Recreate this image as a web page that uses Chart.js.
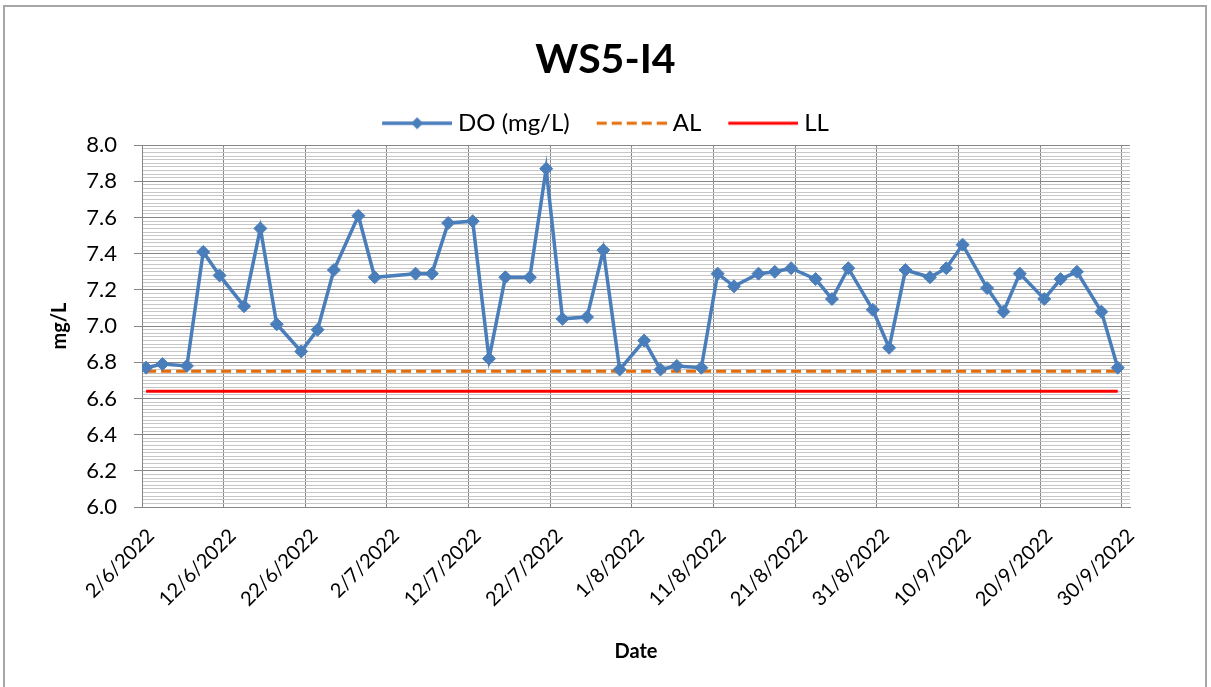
<!DOCTYPE html>
<html>
<head>
<meta charset="utf-8">
<title>WS5-I4</title>
<script src="https://cdn.jsdelivr.net/npm/chart.js@4/dist/chart.umd.min.js"></script>
<style>
  html, body { margin: 0; padding: 0; background: #fff; overflow: hidden; }
  #wrap { position: relative; width: 1211px; height: 687px; overflow: hidden; }
  #frame { position: absolute; left: 3px; top: 5px; width: 1204px; height: 700px;
           border: 2px solid #a6a6a6; box-sizing: border-box; pointer-events: none; }
  canvas { position: absolute; left: 0; top: 0; }
</style>
</head>
<body>
<div id="wrap">
  <canvas id="chart" width="1211" height="687"></canvas>
  <div id="frame"></div>
</div>
<script>
// Sampling dates (d/m/yyyy) and measured dissolved oxygen
const sampleDates = [
  '2/6/2022', '4/6/2022', '7/6/2022', '9/6/2022', '11/6/2022', '14/6/2022', '16/6/2022',
  '18/6/2022', '21/6/2022', '23/6/2022', '25/6/2022', '28/6/2022', '30/6/2022',
  '5/7/2022', '7/7/2022', '9/7/2022', '12/7/2022', '14/7/2022', '16/7/2022', '19/7/2022',
  '21/7/2022', '23/7/2022', '26/7/2022', '28/7/2022', '30/7/2022',
  '2/8/2022', '4/8/2022', '6/8/2022', '9/8/2022', '11/8/2022', '13/8/2022', '16/8/2022',
  '18/8/2022', '20/8/2022', '23/8/2022', '25/8/2022', '27/8/2022', '30/8/2022',
  '1/9/2022', '3/9/2022', '6/9/2022', '8/9/2022', '10/9/2022', '13/9/2022', '15/9/2022',
  '17/9/2022', '20/9/2022', '22/9/2022', '24/9/2022', '27/9/2022', '29/9/2022'
];
const doValues = [
  6.77, 6.79, 6.78, 7.41, 7.28, 7.11, 7.54, 7.01, 6.86, 6.98, 7.31, 7.61, 7.27,
  7.29, 7.29, 7.57, 7.58, 6.82, 7.27, 7.27, 7.87, 7.04, 7.05, 7.42, 6.76,
  6.92, 6.76, 6.78, 6.77, 7.29, 7.22, 7.29, 7.30, 7.32, 7.26, 7.15, 7.32, 7.09,
  6.88, 7.31, 7.27, 7.32, 7.45, 7.21, 7.08, 7.29, 7.15, 7.26, 7.30, 7.08, 6.77
];
const actionLevel = 6.75;
const limitLevel = 6.64;

// Date axis: first day, number of day slots, tick spacing
const axisStart = '2/6/2022';
const axisDays = 121;
const tickEvery = 10;
const yTicksMajor = [6.0, 6.2, 6.4, 6.6, 6.8, 7.0, 7.2, 7.4, 7.6, 7.8, 8.0];

const FONT = 'Lato, "DejaVu Sans", sans-serif';
const BLUE = '#4a7ebb';
const ORANGE = '#e46c0a';
const RED = '#ff0000';
const GRID_MAJOR = '#878787';
const GRID_MINOR = '#c6c6c6';

function parseDmy(s) {
  const [d, m, y] = s.split('/').map(Number);
  return new Date(y, m - 1, d);
}
const startDate = parseDmy(axisStart);
function dayIndex(s) {
  return Math.round((parseDmy(s) - startDate) / 86400000);
}
function dayLabel(day) {
  const dt = new Date(startDate.getFullYear(), startDate.getMonth(), startDate.getDate() + day);
  return dt.getDate() + '/' + (dt.getMonth() + 1) + '/' + dt.getFullYear();
}
// each day occupies one slot; a sample sits in the middle of its day
const slotCentre = s => dayIndex(s) + 0.5;

const doPoints = sampleDates.map((s, i) => ({ x: slotCentre(s), y: doValues[i] }));
const alPoints = sampleDates.map(s => ({ x: slotCentre(s), y: actionLevel }));
const llPoints = sampleDates.map(s => ({ x: slotCentre(s), y: limitLevel }));

const xTickDays = [];
for (let d = 0; d < axisDays; d += tickEvery) xTickDays.push(d);

const isMajorY = v => yTicksMajor.some(t => Math.abs(t - v) < 1e-6);

// legend swatches: 70px line sample (with marker for the measured series),
// drawn into a slightly wider canvas so the label sits close to the sample
function swatch(draw) {
  const c = document.createElement('canvas');
  c.width = 76; c.height = 18;
  const g = c.getContext('2d');
  g.translate(6, 0);
  draw(g);
  return c;
}
const swatches = [
  swatch(g => {
    g.strokeStyle = BLUE; g.lineWidth = 3.5;
    g.beginPath(); g.moveTo(0, 9); g.lineTo(70, 9); g.stroke();
    g.fillStyle = BLUE;
    g.beginPath(); g.moveTo(35, 3); g.lineTo(41, 9); g.lineTo(35, 15); g.lineTo(29, 9); g.closePath(); g.fill();
  }),
  swatch(g => {
    g.strokeStyle = ORANGE; g.lineWidth = 3; g.setLineDash([10, 5]);
    g.beginPath(); g.moveTo(0, 9); g.lineTo(70, 9); g.stroke();
  }),
  swatch(g => {
    g.strokeStyle = RED; g.lineWidth = 3;
    g.beginPath(); g.moveTo(0, 9); g.lineTo(70, 9); g.stroke();
  })
];

new Chart(document.getElementById('chart'), {
  type: 'line',
  data: {
    datasets: [
      {
        label: 'DO (mg/L)', data: doPoints,
        borderColor: BLUE, backgroundColor: BLUE, borderWidth: 3.5,
        pointStyle: 'rectRot', pointRadius: 6.5, pointBorderWidth: 1,
        pointBackgroundColor: BLUE, pointBorderColor: BLUE, tension: 0
      },
      {
        label: 'AL', data: alPoints,
        borderColor: ORANGE, borderWidth: 3, borderDash: [10, 5], pointRadius: 0
      },
      {
        label: 'LL', data: llPoints,
        borderColor: RED, borderWidth: 3, pointRadius: 0
      }
    ]
  },
  options: {
    responsive: false,
    animation: false,
    devicePixelRatio: 1,
    layout: { padding: 0 },
    plugins: {
      tooltip: { enabled: false },
      title: {
        display: true, text: 'WS5-I4', color: '#000',
        font: { family: FONT, size: 41, weight: 'bold' },
        padding: { top: 35, bottom: 0 }
      },
      legend: {
        display: true, position: 'top',
        labels: {
          color: '#000', font: { family: FONT, size: 24 },
          usePointStyle: true, pointStyleWidth: 64, padding: 27,
          generateLabels: chart => chart.data.datasets.map((ds, i) => ({
            text: ds.label, pointStyle: swatches[i], datasetIndex: i,
            hidden: false, lineWidth: 0, fillStyle: 'rgba(0,0,0,0)', strokeStyle: 'rgba(0,0,0,0)'
          }))
        }
      }
    },
    scales: {
      x: {
        type: 'linear', min: 0, max: axisDays,
        afterBuildTicks: s => { s.ticks = xTickDays.map(v => ({ value: v })); },
        ticks: {
          autoSkip: false, minRotation: 45, maxRotation: 45,
          color: '#000', font: { family: FONT, size: 20 },
          padding: 17, labelOffset: 9,
          callback: v => dayLabel(v)
        },
        grid: { color: GRID_MAJOR, lineWidth: 1, drawTicks: false },
        border: { color: GRID_MAJOR, width: 1 },
        title: {
          display: true, text: 'Date', color: '#000',
          font: { family: FONT, size: 20, weight: 'bold' },
          padding: { top: 0, bottom: 23 }
        },
        afterFit: s => { s.height = 180; }
      },
      y: {
        type: 'linear', min: 6, max: 8,
        ticks: {
          stepSize: 0.02, autoSkip: false, padding: 17,
          color: '#000', font: { family: FONT, size: 22 },
          callback: v => isMajorY(v) ? Number(v).toFixed(1) : ''
        },
        grid: {
          lineWidth: 1, tickLength: 8,
          color: c => isMajorY(c.tick.value) ? GRID_MAJOR : GRID_MINOR,
          tickColor: c => isMajorY(c.tick.value) ? GRID_MAJOR : 'rgba(0,0,0,0)'
        },
        border: { color: GRID_MAJOR, width: 1 },
        title: {
          display: true, text: 'mg/L', color: '#000',
          font: { family: FONT, size: 20, weight: 'bold' },
          padding: { top: 48, bottom: 0 }
        },
        afterFit: s => { s.width = 142; }
      },
      rightMargin: {
        type: 'linear', axis: 'y', position: 'right', display: true,
        grid: { display: false }, border: { display: false }, ticks: { display: false },
        afterFit: s => { s.width = 81; }
      }
    }
  }
});
</script>
</body>
</html>
